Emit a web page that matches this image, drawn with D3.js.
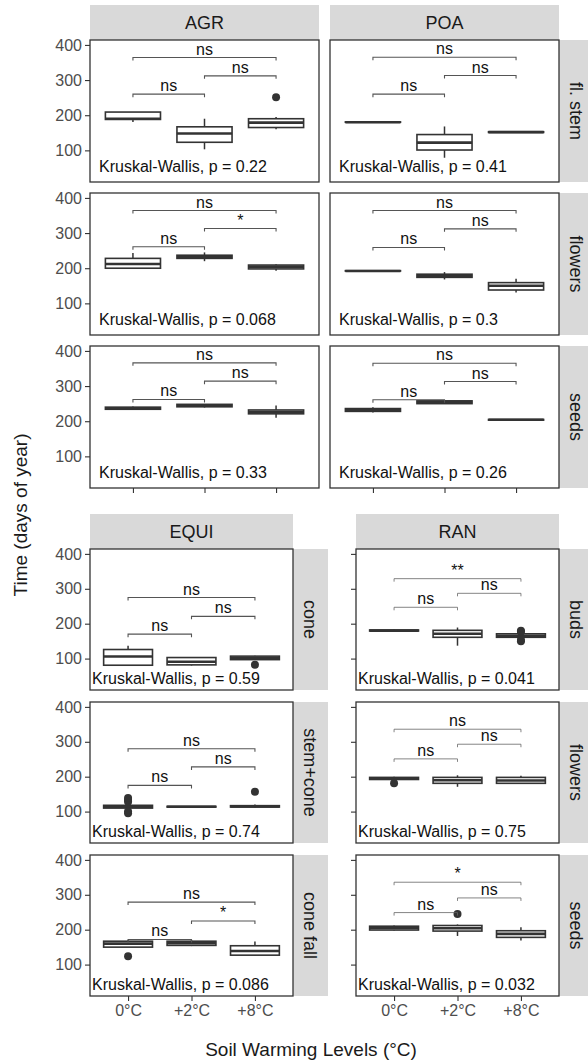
<!DOCTYPE html>
<html>
<head>
<meta charset="utf-8">
<script src="https://cdn.jsdelivr.net/npm/d3@7"></script>
<style>
  body { margin: 0; background: #fff; }
  svg { display: block; font-family: "Liberation Sans", Arial, sans-serif; }
</style>
</head>
<body>
<svg id="chart" width="588" height="1063"></svg>
<script>
// Soil warming levels (x categories) and shared y ticks
const levels = ["0°C", "+2°C", "+8°C"];
const yTicks = [100, 200, 300, 400];
const pairs = [[0, 1], [1, 2], [0, 2]];

// Facet labels
const topSpecies = ["AGR", "POA"];
const topStages = ["fl. stem", "flowers", "seeds"];
const equiStages = ["cone", "stem+cone", "cone fall"];
const ranStages = ["buds", "flowers", "seeds"];

// Box summaries per level: [lower whisker, Q1, median, Q3, upper whisker]
const agrStem    = [[181, 188, 190, 209, 209], [103, 123, 148, 167, 190], [160, 165, 179, 190, 195]];
const agrFlowers = [[200, 200, 212, 228, 243], [220, 228, 233, 237, 245], [193, 198, 204, 209, 211]];
const agrSeeds   = [[233, 234, 237, 240, 242], [239, 241, 245, 248, 249], [210, 221, 226, 232, 245]];
const poaStem    = [[179, 180, 180, 181, 182], [79, 101, 122, 145, 168], [150, 151, 152, 153, 154]];
const poaFlowers = [[191, 192, 192, 193, 193], [168, 174, 178, 183, 189], [131, 138, 150, 159, 170]];
const poaSeeds   = [[225, 228, 232, 236, 240], [249, 250, 254, 258, 259], [202, 203, 204, 205, 206]];
const equiCone     = [[80, 81, 106, 126, 137], [80, 82, 91, 103, 104], [96, 97, 101, 107, 108]];
const equiStemCone = [[108, 110, 114, 118, 122], [112, 113, 114, 115, 116], [112, 113, 115, 117, 120]];
const equiConeFall = [[150, 150, 160, 167, 170], [153, 155, 161, 167, 170], [125, 127, 139, 154, 166]];
const ranBuds    = [[178, 179, 180, 182, 183], [137, 161, 171, 181, 189], [160, 161, 165, 171, 172]];
const ranFlowers = [[190, 192, 195, 198, 200], [171, 181, 190, 198, 204], [180, 181, 189, 198, 203]];
const ranSeeds   = [[198, 199, 205, 210, 212], [182, 196, 204, 212, 215], [169, 178, 188, 197, 207]];

// Outlying points per level
const agrStemOut      = [[], [], [251]];
const equiConeOut     = [[], [], [82]];
const equiStemConeOut = [[95, 100, 128, 133, 139], [], [157]];
const equiConeFallOut = [[124], [], []];
const ranBudsOut      = [[], [], [150, 153, 177, 180]];
const ranFlowersOut   = [[181], [], []];
const ranSeedsOut     = [[], [245], []];
const noOut           = [[], [], []];

// Pairwise comparison brackets: heights for (0-2, 2-8, 0-8) and their labels
const agrStemBr = [260, 312, 364],  agrStemSig = ["ns", "ns", "ns"];
const agrFlowersBr = [261, 313, 364], agrFlowersSig = ["ns", "*", "ns"];
const agrSeedsBr = [262, 314, 366], agrSeedsSig = ["ns", "ns", "ns"];
const poaStemBr = [260, 313, 365], poaStemSig = ["ns", "ns", "ns"];
const poaFlowersBr = [259, 312, 364], poaFlowersSig = ["ns", "ns", "ns"];
const poaSeedsBr = [261, 313, 365], poaSeedsSig = ["ns", "ns", "ns"];
const equiConeBr = [170, 221, 275], equiConeSig = ["ns", "ns", "ns"];
const equiStemConeBr = [175, 228, 280], equiStemConeSig = ["ns", "ns", "ns"];
const equiConeFallBr = [172, 225, 279], equiConeFallSig = ["ns", "*", "ns"];
const ranBudsBr = [247, 287, 329], ranBudsSig = ["ns", "ns", "**"];
const ranFlowersBr = [251, 293, 336], ranFlowersSig = ["ns", "ns", "ns"];
const ranSeedsBr = [249, 291, 336], ranSeedsSig = ["ns", "ns", "*"];

// Kruskal-Wallis p-values
const topP  = [["0.22", "0.068", "0.33"], ["0.41", "0.3", "0.26"]];
const equiP = ["0.59", "0.74", "0.086"];
const ranP  = ["0.041", "0.75", "0.032"];

const svg = d3.select("#chart");
const ink = "#333333";
const yDomain = [10, 414];

// Panel geometry
const topCols = [[90, 319], [330, 559]];
const topRows = [[40, 182], [193, 335], [346, 488]];
const botCols = [[90, 293], [356, 559]];
const botRows = [[549, 690], [702, 843], [855, 996]];

const panels = [
  { cx: topCols[0], cy: topRows[0], box: agrStem,    out: agrStemOut, br: agrStemBr,    sig: agrStemSig,    p: topP[0][0], kw: 9, kwDy: 10, yLab: true, xAxis: false, brStyle: "top" },
  { cx: topCols[0], cy: topRows[1], box: agrFlowers, out: noOut,      br: agrFlowersBr, sig: agrFlowersSig, p: topP[0][1], kw: 9, kwDy: 10, yLab: true, xAxis: false, brStyle: "top" },
  { cx: topCols[0], cy: topRows[2], box: agrSeeds,   out: noOut,      br: agrSeedsBr,   sig: agrSeedsSig,   p: topP[0][2], kw: 9, kwDy: 10, yLab: true, xAxis: "ticks", brStyle: "top" },
  { cx: topCols[1], cy: topRows[0], box: poaStem,    out: noOut,      br: poaStemBr,    sig: poaStemSig,    p: topP[1][0], kw: 9, kwDy: 10, yLab: false, yTick: false, xAxis: false, brStyle: "top" },
  { cx: topCols[1], cy: topRows[1], box: poaFlowers, out: noOut,      br: poaFlowersBr, sig: poaFlowersSig, p: topP[1][1], kw: 9, kwDy: 10, yLab: false, yTick: false, xAxis: false, brStyle: "top" },
  { cx: topCols[1], cy: topRows[2], box: poaSeeds,   out: noOut,      br: poaSeedsBr,   sig: poaSeedsSig,   p: topP[1][2], kw: 9, kwDy: 10, yLab: false, yTick: false, xAxis: "ticks", brStyle: "top" },
  { cx: botCols[0], cy: botRows[0], box: equiCone,     out: equiConeOut,     br: equiConeBr,     sig: equiConeSig,     p: equiP[0], kw: 2, kwDy: 6, yLab: true, xAxis: false, brStyle: "equi" },
  { cx: botCols[0], cy: botRows[1], box: equiStemCone, out: equiStemConeOut, br: equiStemConeBr, sig: equiStemConeSig, p: equiP[1], kw: 2, kwDy: 6, yLab: true, xAxis: false, brStyle: "equi" },
  { cx: botCols[0], cy: botRows[2], box: equiConeFall, out: equiConeFallOut, br: equiConeFallBr, sig: equiConeFallSig, p: equiP[2], kw: 2, kwDy: 6, yLab: true, xAxis: "labels", brStyle: "equi" },
  { cx: botCols[1], cy: botRows[0], box: ranBuds,    out: ranBudsOut,    br: ranBudsBr,    sig: ranBudsSig,    p: ranP[0], kw: 2, kwDy: 6, yLab: false, xAxis: false, brStyle: "ran" },
  { cx: botCols[1], cy: botRows[1], box: ranFlowers, out: ranFlowersOut, br: ranFlowersBr, sig: ranFlowersSig, p: ranP[1], kw: 2, kwDy: 6, yLab: false, xAxis: false, brStyle: "ran" },
  { cx: botCols[1], cy: botRows[2], box: ranSeeds,   out: ranSeedsOut,   br: ranSeedsBr,   sig: ranSeedsSig,   p: ranP[2], kw: 2, kwDy: 6, yLab: false, xAxis: "labels", brStyle: "ran" }
];

const bracketStyles = {
  top:  { stroke: "#555555", width: 1.1 },
  equi: { stroke: "#555555", width: 1.1 },
  ran:  { stroke: "#666666", width: 0.8 }
};

// Strips (column headers and row labels)
function stripTop(x0, x1, y0, y1, label) {
  svg.append("rect").attr("x", x0).attr("y", y0).attr("width", x1 - x0).attr("height", y1 - y0).attr("fill", "#d9d9d9");
  svg.append("text").attr("x", (x0 + x1) / 2).attr("y", (y0 + y1) / 2).attr("dy", "0.36em")
    .attr("text-anchor", "middle").attr("font-size", 18).attr("fill", "#1a1a1a").text(label);
}
function stripRight(x0, x1, y0, y1, label) {
  svg.append("rect").attr("x", x0).attr("y", y0).attr("width", x1 - x0).attr("height", y1 - y0).attr("fill", "#d9d9d9");
  const cx = (x0 + x1) / 2, cy = (y0 + y1) / 2;
  svg.append("text").attr("transform", `translate(${cx},${cy}) rotate(90)`).attr("dy", "0.36em")
    .attr("text-anchor", "middle").attr("font-size", 18).attr("fill", "#1a1a1a").text(label);
}

topSpecies.forEach((s, i) => stripTop(topCols[i][0], topCols[i][1], 5, 40, s));
topStages.forEach((s, i) => stripRight(559, 594, topRows[i][0], topRows[i][1], s));
stripTop(botCols[0][0], botCols[0][1], 514, 549, "EQUI");
stripTop(botCols[1][0], botCols[1][1], 514, 549, "RAN");
equiStages.forEach((s, i) => stripRight(293, 328, botRows[i][0], botRows[i][1], s));
ranStages.forEach((s, i) => stripRight(559, 594, botRows[i][0], botRows[i][1], s));

panels.forEach(pn => {
  const [x0, x1] = pn.cx, [y0, y1] = pn.cy;
  const x = d3.scalePoint().domain(levels).range([x0, x1]).padding(0.6);
  const y = d3.scaleLinear().domain(yDomain).range([y1, y0]);
  const bw = x.step() * 0.77;
  const g = svg.append("g");

  g.append("rect").attr("x", x0).attr("y", y0).attr("width", x1 - x0).attr("height", y1 - y0).attr("fill", "#fff");

  // y axis
  const ya = d3.axisLeft(y).tickValues(yTicks).tickSize(5).tickPadding(3);
  if (!pn.yLab) ya.tickFormat("");
  if (pn.yTick !== false) {
    const ag = g.append("g").attr("transform", `translate(${x0},0)`).call(ya);
    ag.select(".domain").remove();
    ag.selectAll(".tick line").attr("stroke", ink).attr("stroke-width", 1.1);
    ag.selectAll(".tick text").attr("fill", "#4d4d4d").attr("font-size", 16).attr("font-family", "Liberation Sans, Arial, sans-serif");
  }

  // x axis
  if (pn.xAxis) {
    const xa = d3.axisBottom(x).tickSize(5).tickPadding(4);
    if (pn.xAxis === "ticks") xa.tickFormat("");
    const ag = g.append("g").attr("transform", `translate(0,${y1})`).call(xa);
    ag.select(".domain").remove();
    ag.selectAll(".tick line").attr("stroke", ink).attr("stroke-width", 1.1);
    ag.selectAll(".tick text").attr("fill", "#4d4d4d").attr("font-size", 16).attr("font-family", "Liberation Sans, Arial, sans-serif");
  }

  // boxplots
  pn.box.forEach((b, i) => {
    const cx = x(levels[i]);
    const [lo, q1, med, q3, hi] = b;
    g.append("line").attr("x1", cx).attr("x2", cx).attr("y1", y(hi)).attr("y2", y(q3)).attr("stroke", ink).attr("stroke-width", 1.5);
    g.append("line").attr("x1", cx).attr("x2", cx).attr("y1", y(q1)).attr("y2", y(lo)).attr("stroke", ink).attr("stroke-width", 1.5);
    g.append("rect").attr("x", cx - bw / 2).attr("y", y(q3)).attr("width", bw).attr("height", Math.max(0, y(q1) - y(q3)))
      .attr("fill", "#fff").attr("stroke", ink).attr("stroke-width", 1.6);
    g.append("line").attr("x1", cx - bw / 2).attr("x2", cx + bw / 2).attr("y1", y(med)).attr("y2", y(med))
      .attr("stroke", ink).attr("stroke-width", 2.6);
    pn.out[i].forEach(v => {
      g.append("circle").attr("cx", cx).attr("cy", y(v)).attr("r", 4).attr("fill", ink);
    });
  });

  // comparison brackets
  const st = bracketStyles[pn.brStyle];
  pairs.forEach((pr, k) => {
    const xa = x(levels[pr[0]]), xb = x(levels[pr[1]]), yy = y(pn.br[k]);
    g.append("path").attr("d", `M${xa},${yy + 3}V${yy}H${xb}V${yy + 3}`)
      .attr("fill", "none").attr("stroke", st.stroke).attr("stroke-width", st.width);
    g.append("text").attr("x", (xa + xb) / 2).attr("y", yy - 3).attr("text-anchor", "middle")
      .attr("font-size", 16).attr("fill", "#111").text(pn.sig[k]);
  });

  // Kruskal-Wallis label
  g.append("text").attr("x", x0 + pn.kw).attr("y", y1 - pn.kwDy).attr("font-size", 16).attr("fill", "#111")
    .text(`Kruskal-Wallis, p = ${pn.p}`);

  // panel border
  g.append("rect").attr("x", x0).attr("y", y0).attr("width", x1 - x0).attr("height", y1 - y0)
    .attr("fill", "none").attr("stroke", ink).attr("stroke-width", 1.3);
});

// Axis titles
svg.append("text").attr("transform", "translate(27,515) rotate(-90)").attr("text-anchor", "middle")
  .attr("font-size", 19).attr("fill", "#1a1a1a").text("Time (days of year)");
svg.append("text").attr("x", 311).attr("y", 1056).attr("text-anchor", "middle")
  .attr("font-size", 19).attr("fill", "#1a1a1a").text("Soil Warming Levels (°C)");
</script>
</body>
</html>
